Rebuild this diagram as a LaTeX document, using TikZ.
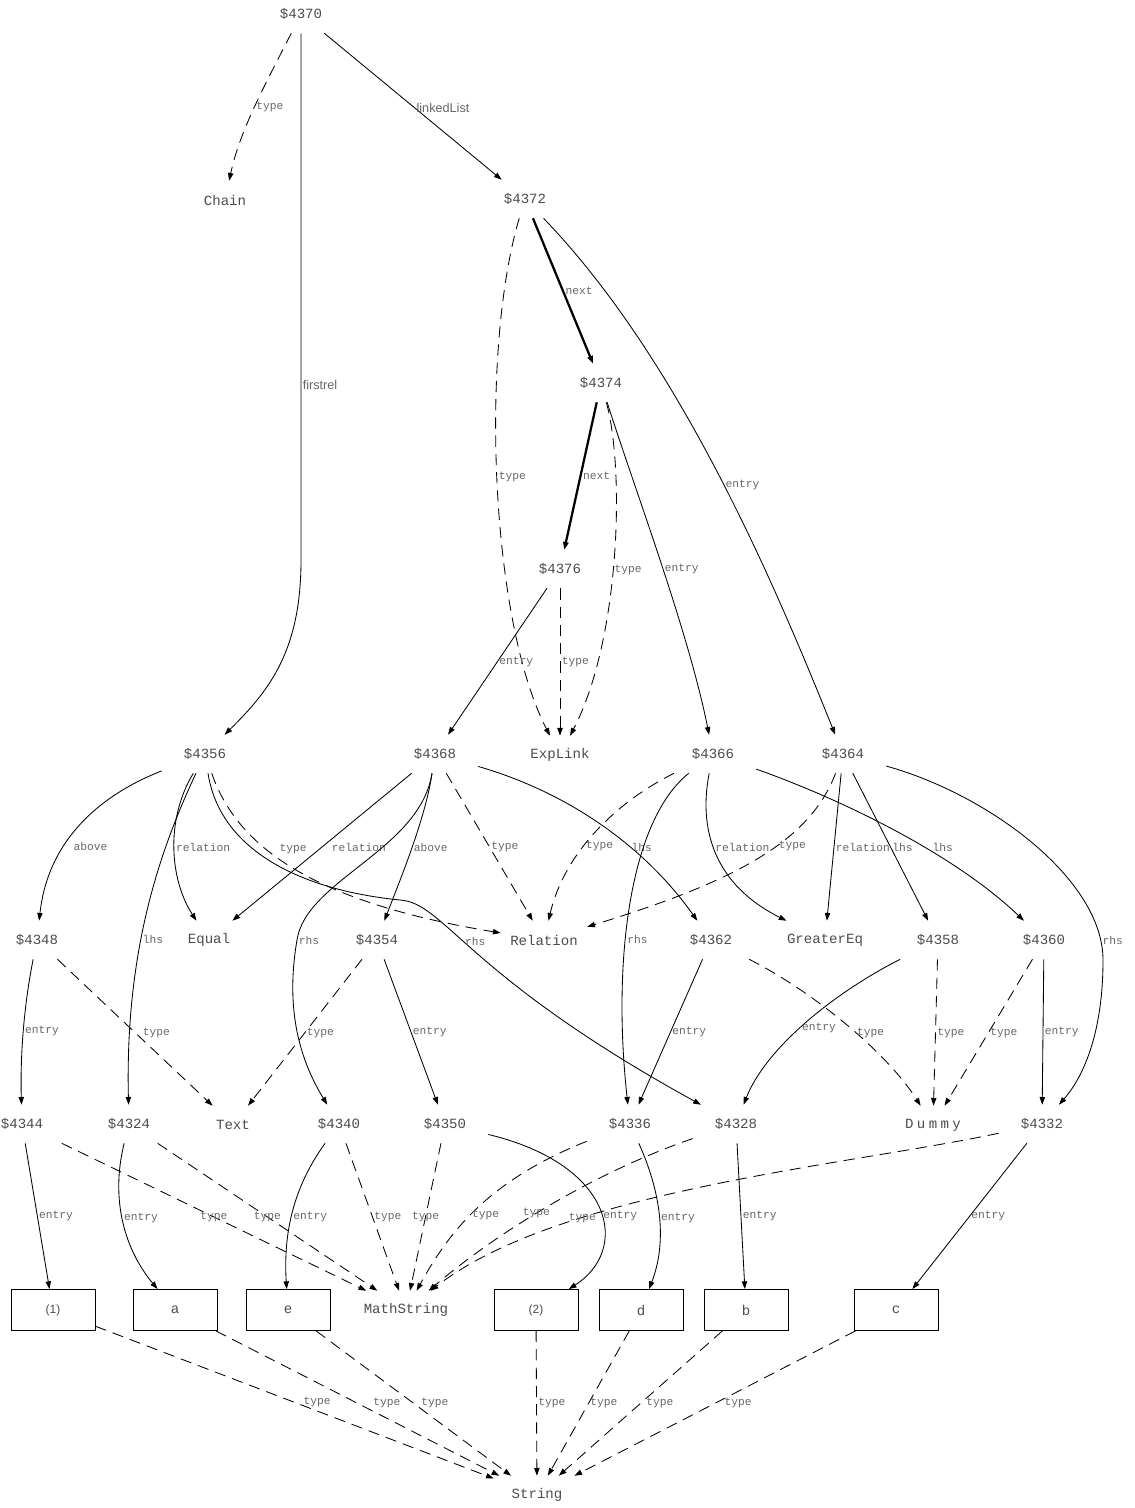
\documentclass[tikz,border=0pt]{standalone}
\usepackage{fontspec}
\setmainfont{Liberation Mono}
\newfontfamily\labelsans{Liberation Sans}
\newfontfamily\spacedmono[LetterSpace=24]{Liberation Mono}
\usetikzlibrary{arrows.meta}

\begin{document}
\begin{tikzpicture}[x=0.025cm, y=-0.025cm,
    idnode/.style={
        rectangle, inner xsep=0.2cm, inner ysep=0pt,
        minimum width=2.15cm, minimum height=0.95cm,
        font=\fontsize{10}{12}\selectfont, text=black!70
    },
    strbox/.style={
        rectangle, draw, line width=0.6pt,
        minimum width=2.1cm, minimum height=1.025cm,
        font=\fontsize{10}{12}\selectfont, text=black!70
    },
    arrow/.style={-{Triangle[length=5.5pt,width=3.8pt]}, line width=0.6pt},
    typearrow/.style={arrow, dash pattern=on 8pt off 5pt},
    nextarrow/.style={arrow, line width=1.6pt},
    lbl/.style={font=\fontsize{8}{9}\selectfont, text=black!60, inner sep=1pt, anchor=west},
    sanslbl/.style={lbl, font=\labelsans\fontsize{9}{10}\selectfont}
]
\useasboundingbox (0,0) rectangle (1134,1508);

% ==================== NODES ====================
% Chain and linked list
\node[idnode] (n4370) at (301,14) {\$4370};
\node[idnode] (chain) at (225,200) {Chain};
\node[idnode] (n4372) at (525,199) {\$4372};
\node[idnode] (n4374) at (601,383) {\$4374};
\node[idnode] (n4376) at (560,569) {\$4376};

% Relations
\node[idnode] (n4356) at (205,754) {\$4356};
\node[idnode] (n4368) at (435,754) {\$4368};
\node[idnode] (explink) at (560,755) {ExpLink};
\node[idnode] (n4366) at (713,754) {\$4366};
\node[idnode] (n4364) at (843,754) {\$4364};

% Sides of relations
\node[idnode] (n4348) at (37,940) {\$4348};
\node[idnode] (equal) at (209,940) {Equal};
\node[idnode] (n4354) at (377,940) {\$4354};
\node[idnode] (relation) at (544,940) {Relation};
\node[idnode] (n4362) at (711,940) {\$4362};
\node[idnode] (greatereq) at (825,940) {GreaterEq};
\node[idnode] (n4358) at (938,940) {\$4358};
\node[idnode] (n4360) at (1044,940) {\$4360};

% Math strings
\node[idnode] (n4344) at (22,1124) {\$4344};
\node[idnode] (n4324) at (129,1124) {\$4324};
\node[idnode] (text) at (233,1125) {Text};
\node[idnode] (n4340) at (339,1124) {\$4340};
\node[idnode] (n4350) at (445,1124) {\$4350};
\node[idnode] (n4336) at (630,1124) {\$4336};
\node[idnode] (n4328) at (736,1124) {\$4328};
\node[idnode] (dummy) at (933,1125) {\spacedmono Dummy};
\node[idnode] (n4332) at (1042,1124) {\$4332};

% String values
\node[strbox] (s1) at (53,1310) {\labelsans\fontsize{8.5}{9}\selectfont (1)};
\node[strbox] (sa) at (175,1310) {a};
\node[strbox] (se) at (288,1310) {e};
\node[idnode] (mathstring) at (406,1310) {MathString};
\node[strbox] (s2) at (536,1310) {\labelsans\fontsize{8.5}{9}\selectfont (2)};
\node[strbox] (sd) at (641,1310) {d};
\node[strbox] (sb) at (746,1310) {b};
\node[strbox] (sc) at (896,1310) {c};
\node[idnode] (string) at (537,1495) {String};

% ==================== ARROWS ====================
% $4370
\draw[typearrow] (n4370) .. controls (265,85) and (240,130) .. (chain) node[lbl, pos=0.5] {type};
\draw[arrow] (n4370) -- node[sanslbl, pos=0.668] {firstrel} (301,560) .. controls (301,650) and (270,690) .. (n4356);
\draw[arrow] (n4370) -- node[sanslbl, pos=0.51] {linkedList} (n4372);

% $4372
\draw[typearrow] (n4372) .. controls (480,350) and (490,620) .. (explink) node[lbl, pos=0.49] {type};
\draw[nextarrow] (n4372) -- node[lbl, pos=0.5] {next} (n4374);
\draw[arrow] (n4372) .. controls (680,360) and (775,585) .. (n4364) node[lbl, pos=0.52] {entry};

% $4374
\draw[nextarrow] (n4374) -- node[lbl, pos=0.5] {next} (n4376);
\draw[typearrow] (n4374) .. controls (625,470) and (620,640) .. (explink) node[lbl, pos=0.53] {type};
\draw[arrow] (n4374) .. controls (635,490) and (688,630) .. (n4366) node[lbl, pos=0.52] {entry};

% $4376
\draw[arrow] (n4376) -- node[lbl, pos=0.5] {entry} (n4368);
\draw[typearrow] (n4376) -- node[lbl, pos=0.5] {type} (explink);

% $4356
\draw[arrow] (n4356) .. controls (100,795) and (48,840) .. (n4348) node[lbl, pos=0.64, xshift=0.2cm] {above};
\draw[arrow] (n4356) .. controls (160,850) and (125,950) .. (n4324) node[lbl, pos=0.59] {lhs};
\draw[arrow] (n4356) .. controls (165,820) and (170,880) .. (equal) node[lbl, pos=0.49] {relation};
\draw[typearrow] (n4356) .. controls (235,840) and (300,900) .. (relation) node[lbl, pos=0.4, xshift=0.3cm] {type};
\draw[arrow] (n4356) .. controls (220,850) and (300,890) .. (400,900) .. controls (445,903) and (465,975) .. (n4328) node[lbl, pos=0.43] {rhs};

% $4368
\draw[arrow] (n4368) -- node[lbl, pos=0.5, xshift=0.2cm] {relation} (equal);
\draw[arrow] (n4368) .. controls (420,850) and (306,880) .. (297,940) node[lbl] {rhs} .. controls (285,1010) and (300,1060) .. (n4340);
\draw[arrow] (n4368) .. controls (425,820) and (400,880) .. (n4354) node[lbl, pos=0.49] {above};
\draw[typearrow] (n4368) -- node[lbl, pos=0.5] {type} (relation);
\draw[arrow] (n4368) .. controls (560,790) and (640,840) .. (n4362) node[lbl, pos=0.65] {lhs};

% $4366
\draw[typearrow] (n4366) .. controls (620,800) and (565,850) .. (relation) node[lbl, pos=0.6] {type};
\draw[arrow] (n4366) .. controls (630,820) and (612,960) .. (n4336) node[lbl, pos=0.6] {rhs};
\draw[arrow] (n4366) .. controls (698,830) and (715,885) .. (greatereq) node[lbl, pos=0.45] {relation};
\draw[arrow] (n4366) .. controls (830,795) and (950,850) .. (n4360) node[lbl, pos=0.62, xshift=0.15cm] {lhs};

% $4364
\draw[typearrow] (n4364) .. controls (810,840) and (740,880) .. (relation) node[lbl, pos=0.42] {type};
\draw[arrow] (n4364) -- node[lbl, pos=0.5] {relation} (greatereq);
\draw[arrow] (n4364) -- node[lbl, pos=0.5] {lhs} (n4358);
\draw[arrow] (n4364) .. controls (990,795) and (1103,880) .. (1103,960) node[lbl, pos=0.92] {rhs} .. controls (1103,1030) and (1085,1075) .. (n4332);

% sides -> math strings
\draw[arrow] (n4348) .. controls (25,1000) and (20,1050) .. (n4344) node[lbl, pos=0.53] {entry};
\draw[typearrow] (n4348) -- node[lbl, pos=0.5, xshift=0.15cm] {type} (text);
\draw[typearrow] (n4354) -- node[lbl, pos=0.5] {type} (text);
\draw[arrow] (n4354) -- node[lbl, pos=0.5] {entry} (n4350);
\draw[arrow] (n4362) -- node[lbl, pos=0.5] {entry} (n4336);
\draw[typearrow] (n4362) .. controls (810,990) and (885,1050) .. (dummy) node[lbl, pos=0.56] {type};
\draw[arrow] (n4358) .. controls (830,995) and (765,1050) .. (n4328) node[lbl, pos=0.52] {entry};
\draw[typearrow] (n4358) -- node[lbl, pos=0.5] {type} (dummy);
\draw[typearrow] (n4360) -- node[lbl, pos=0.5] {type} (dummy);
\draw[arrow] (n4360) -- node[lbl, pos=0.5] {entry} (n4332);

% math strings -> values
\draw[arrow] (n4344) -- node[lbl, pos=0.5] {entry} (s1);
\draw[typearrow] (n4344) -- node[lbl, pos=0.5, anchor=center] {type} (mathstring);
\draw[arrow] (n4324) .. controls (110,1200) and (125,1250) .. (sa) node[lbl, pos=0.47] {entry};
\draw[typearrow] (n4324) -- node[lbl, pos=0.5, anchor=center] {type} (mathstring);
\draw[arrow] (n4340) .. controls (295,1185) and (283,1230) .. (se) node[lbl, pos=0.55] {entry};
\draw[typearrow] (n4340) -- node[lbl, pos=0.5] {type} (mathstring);
\draw[typearrow] (n4350) -- node[lbl, pos=0.5, anchor=center] {type} (mathstring);
\draw[arrow] (n4350) .. controls (615,1165) and (630,1250) .. (s2) node[lbl, pos=0.54] {entry};
\draw[typearrow] (n4336) .. controls (490,1180) and (450,1230) .. (mathstring) node[lbl, pos=0.55] {type};
\draw[arrow] (n4336) .. controls (660,1190) and (668,1240) .. (sd) node[lbl, pos=0.52] {entry};
\draw[typearrow] (n4328) .. controls (600,1170) and (500,1230) .. (mathstring) node[lbl, pos=0.56, anchor=center] {type};
\draw[arrow] (n4328) -- node[lbl, pos=0.5] {entry} (sb);
\draw[typearrow] (n4332) .. controls (850,1165) and (560,1190) .. (mathstring) node[lbl, pos=0.7, anchor=center] {type};
\draw[arrow] (n4332) -- node[lbl, pos=0.5] {entry} (sc);

% values -> String
\draw[typearrow] (s1) -- node[lbl, pos=0.5, xshift=0.18cm] {type} (string);
\draw[typearrow] (sa) -- node[lbl, pos=0.5, xshift=0.35cm] {type} (string);
\draw[typearrow] (se) -- node[lbl, pos=0.5, xshift=0.15cm] {type} (string);
\draw[typearrow] (s2) -- node[lbl, pos=0.5] {type} (string);
\draw[typearrow] (sd) -- node[lbl, pos=0.5] {type} (string);
\draw[typearrow] (sb) -- node[lbl, pos=0.5, xshift=0.1cm] {type} (string);
\draw[typearrow] (sc) -- node[lbl, pos=0.5, xshift=0.2cm] {type} (string);

\end{tikzpicture}
\end{document}
